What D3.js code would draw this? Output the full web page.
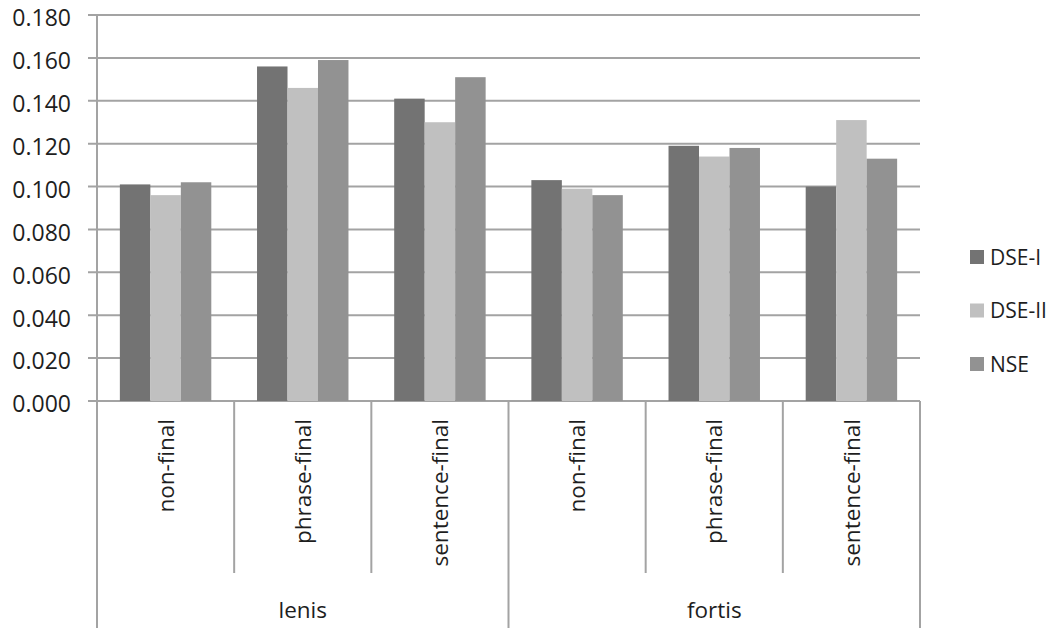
<!DOCTYPE html>
<html>
<head>
<meta charset="utf-8">
<script src="https://cdn.jsdelivr.net/npm/d3@7"></script>
<style>
  html, body { margin: 0; padding: 0; background: #fff; }
  svg { display: block; font-family: "Open Sans", sans-serif; }
</style>
</head>
<body>
<svg id="chart" width="1057" height="628"></svg>
<script>
// Mean durations by consonant type and position, for three speaker groups
const groups = ["lenis", "fortis"];
const positions = ["non-final", "phrase-final", "sentence-final"];
const series = ["DSE-I", "DSE-II", "NSE"];
const seriesColors = ["#737373", "#c0c0c0", "#929292"];

// values per category (lenis x3, then fortis x3)
const dseI  = [0.101, 0.156, 0.141, 0.103, 0.119, 0.100];
const dseII = [0.096, 0.146, 0.130, 0.099, 0.114, 0.131];
const nse   = [0.102, 0.159, 0.151, 0.096, 0.118, 0.113];

const yTicks = [0, 0.02, 0.04, 0.06, 0.08, 0.10, 0.12, 0.14, 0.16, 0.18];

const values = [dseI, dseII, nse];
const categories = [];
groups.forEach(g => positions.forEach(p => categories.push({ group: g, pos: p, key: g + "|" + p })));

const svg = d3.select("#chart");
const plotLeft = 97, plotRight = 920, plotTop = 15, plotBottom = 401;
const lineColor = "#a3a3a3";
const textColor = "#1e1e1e";

const x = d3.scaleBand().domain(categories.map(c => c.key)).range([plotLeft, plotRight]).paddingInner(0).paddingOuter(0);
const xs = d3.scaleBand().domain(series).range([0, x.bandwidth()]).paddingInner(0).paddingOuter(0.75);
const y = d3.scaleLinear().domain([0, 0.18]).range([plotBottom, plotTop]);

// horizontal gridlines with short outward ticks
svg.append("g").selectAll("line").data(yTicks).join("line")
  .attr("x1", plotLeft - 9).attr("x2", plotRight)
  .attr("y1", d => y(d)).attr("y2", d => y(d))
  .attr("stroke", lineColor).attr("stroke-width", 2);

// y axis labels
svg.append("g").selectAll("text").data(yTicks).join("text")
  .attr("x", plotLeft - 26)
  .attr("y", d => y(d) + 3)
  .attr("dy", "0.36em")
  .attr("text-anchor", "end")
  .attr("font-size", 23)
  .attr("fill", textColor)
  .text(d => d3.format(".3f")(d));

// bars
const barG = svg.append("g");
series.forEach((s, si) => {
  barG.append("g").selectAll("rect").data(categories).join("rect")
    .attr("x", c => x(c.key) + xs(s))
    .attr("width", xs.bandwidth())
    .attr("y", (c, i) => y(values[si][i]))
    .attr("height", (c, i) => y(0) - y(values[si][i]))
    .attr("fill", seriesColors[si]);
});

// y axis line
svg.append("line")
  .attr("x1", plotLeft).attr("x2", plotLeft).attr("y1", plotTop).attr("y2", plotBottom)
  .attr("stroke", lineColor).attr("stroke-width", 2);

// category separators below the axis
const bounds = categories.map(c => x(c.key)).concat([plotRight]);
svg.append("g").selectAll("line").data(bounds).join("line")
  .attr("x1", d => d).attr("x2", d => d)
  .attr("y1", plotBottom)
  .attr("y2", (d, i) => (i % positions.length === 0) ? 628 : 573)
  .attr("stroke", lineColor).attr("stroke-width", 2);

// position labels (rotated)
svg.append("g").selectAll("text").data(categories).join("text")
  .attr("transform", c => `translate(${x(c.key) + x.bandwidth() / 2},419) rotate(-90)`)
  .attr("text-anchor", "end")
  .attr("dy", "0.36em")
  .attr("font-size", 22.5)
  .attr("fill", textColor)
  .text(c => c.pos);

// group labels
svg.append("g").selectAll("text").data(groups).join("text")
  .attr("x", g => {
    const first = x(g + "|" + positions[0]);
    const last = x(g + "|" + positions[positions.length - 1]) + x.bandwidth();
    return (first + last) / 2;
  })
  .attr("y", 618)
  .attr("text-anchor", "middle")
  .attr("font-size", 22.5)
  .attr("fill", textColor)
  .text(g => g);

// legend
const legend = svg.append("g").selectAll("g").data(series).join("g")
  .attr("transform", (s, i) => `translate(970,${257 + i * 53.5})`);
legend.append("rect")
  .attr("x", 0).attr("y", -7).attr("width", 14).attr("height", 14)
  .attr("fill", (s, i) => seriesColors[i]);
legend.append("text")
  .attr("x", 20).attr("dy", "0.36em")
  .attr("font-size", 21)
  .attr("fill", textColor)
  .text(s => s);
</script>
</body>
</html>
